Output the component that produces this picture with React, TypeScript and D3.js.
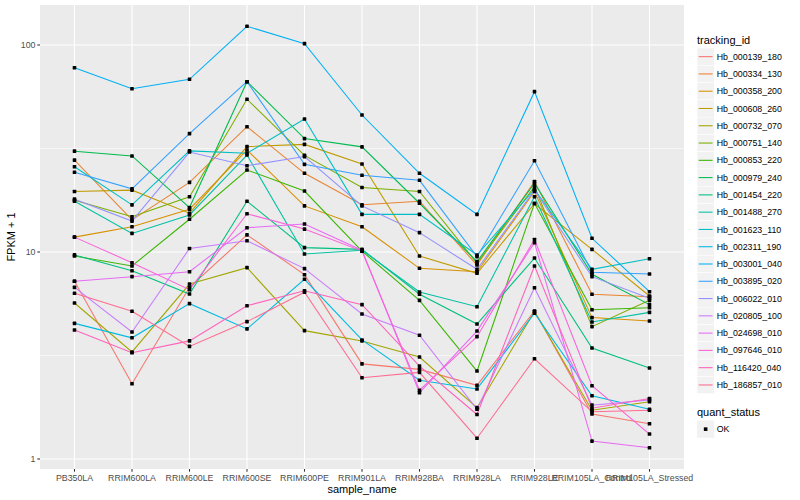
import React from "react";
import * as d3 from "d3";

const categories = [
  "PB350LA", "RRIM600LA", "RRIM600LE", "RRIM600SE", "RRIM600PE", "RRIM901LA",
  "RRIM928BA", "RRIM928LA", "RRIM928LE", "RRIM105LA_Control", "RRIM105LA_Stressed",
];

const trackingIds = [
  "Hb_000139_180", "Hb_000334_130", "Hb_000358_200", "Hb_000608_260", "Hb_000732_070",
  "Hb_000751_140", "Hb_000853_220", "Hb_000979_240", "Hb_001454_220", "Hb_001488_270",
  "Hb_001623_110", "Hb_002311_190", "Hb_003001_040", "Hb_003895_020", "Hb_006022_010",
  "Hb_020805_100", "Hb_024698_010", "Hb_097646_010", "Hb_116420_040", "Hb_186857_010",
];

const seriesColors = [
  "#F8766D", "#EA8331", "#D89000", "#C09B00", "#A3A500", "#7CAE00", "#39B600", "#00BB4E",
  "#00BF7D", "#00C1A3", "#00BFC4", "#00BAE0", "#00B0F6", "#35A2FF", "#9590FF", "#C77CFF",
  "#E76BF3", "#FA62DB", "#FF62BC", "#FF6C91",
];

// FPKM + 1 per sample, in the order of `categories`
const hb_000139_180 = [7.22, 2.31, 6.75, 12.1, 7.77, 2.88, 2.71, 2.27, 5.19, 1.65, 1.48];
const hb_000334_130 = [27.8, 14.3, 21.7, 40.3, 24.0, 16.9, 17.6, 8.65, 21.9, 6.25, 6.08];
const hb_000358_200 = [11.8, 13.25, 16.1, 31.1, 16.7, 13.25, 8.34, 8.03, 19.6, 4.82, 4.64];
const hb_000608_260 = [19.6, 19.9, 15.4, 32.3, 33.1, 26.6, 9.56, 7.89, 17.1, 10.3, 6.13];
const hb_000732_070 = [5.67, 3.29, 7.0, 8.4, 4.17, 3.72, 3.11, 1.77, 5.16, 1.72, 1.89];
const hb_000751_140 = [17.8, 14.8, 18.5, 54.7, 29.3, 20.5, 19.6, 8.82, 20.7, 4.36, 5.84];
const hb_000853_220 = [9.56, 8.56, 14.4, 24.9, 19.7, 10.1, 5.84, 2.66, 17.2, 5.26, 5.38];
const hb_000979_240 = [30.7, 29.1, 16.4, 66.5, 35.3, 32.2, 17.2, 8.98, 21.5, 7.8, 5.57];
const hb_001454_220 = [9.68, 8.12, 6.27, 17.6, 10.5, 10.3, 6.25, 4.49, 9.35, 3.44, 2.75];
const hb_001488_270 = [17.6, 12.3, 15.1, 29.4, 9.78, 10.2, 6.41, 5.44, 18.5, 4.59, 5.11];
const hb_001623_110 = [25.8, 16.9, 30.8, 30.0, 43.9, 15.2, 15.2, 9.67, 20.1, 8.25, 9.28];
const hb_002311_190 = [4.52, 3.85, 5.63, 4.25, 7.38, 3.76, 2.4, 2.18, 5.06, 2.02, 1.74];
const hb_003001_040 = [77.7, 61.5, 68.3, 123.1, 101.5, 45.9, 24.0, 15.2, 59.5, 11.65, 6.43];
const hb_003895_020 = [24.3, 20.2, 37.3, 66.5, 26.5, 23.5, 22.2, 9.5, 27.6, 7.98, 7.83];
const hb_006022_010 = [18.0, 14.1, 30.4, 26.1, 28.9, 16.7, 12.4, 8.25, 19.9, 7.6, 5.97];
const hb_020805_100 = [6.75, 4.11, 10.4, 11.34, 8.31, 5.02, 3.96, 1.74, 6.72, 1.82, 1.93];
const hb_024698_010 = [7.22, 7.6, 8.03, 13.1, 13.65, 10.2, 2.09, 4.15, 11.09, 1.22, 1.134];
const hb_097646_010 = [11.8, 8.88, 6.58, 15.3, 12.9, 10.1, 2.15, 3.9, 11.5, 2.26, 1.32];
const hb_116420_040 = [4.2, 3.26, 3.72, 5.5, 6.5, 5.57, 2.81, 1.64, 8.56, 1.76, 1.96];
const hb_186857_010 = [6.32, 5.17, 3.5, 4.61, 6.39, 2.47, 2.62, 1.26, 3.05, 1.69, 1.72];

const seriesValues = [
  hb_000139_180, hb_000334_130, hb_000358_200, hb_000608_260, hb_000732_070,
  hb_000751_140, hb_000853_220, hb_000979_240, hb_001454_220, hb_001488_270,
  hb_001623_110, hb_002311_190, hb_003001_040, hb_003895_020, hb_006022_010,
  hb_020805_100, hb_024698_010, hb_097646_010, hb_116420_040, hb_186857_010,
];

const yMajorTicks = [1, 10, 100];
const yTickLabels = ["1", "10", "100"];
const yMinorTicks = [Math.sqrt(10), Math.sqrt(1000)];
const quantStatus = ["OK"];

const W = 800;
const H = 500;
const P = { left: 40, right: 684, top: 5, bottom: 469 };
const FONT = "'Liberation Sans', Arial, Helvetica, sans-serif";
const PT = 3.6;

export default function App() {
  const step = (P.right - P.left) / (categories.length - 1 + 1.2);
  const x = d3
    .scalePoint<string>()
    .domain(categories)
    .range([P.left + 0.6 * step, P.right - 0.6 * step]);
  const y = d3
    .scaleLog()
    .domain([Math.pow(10, -10 / 207), Math.pow(10, 454 / 207)])
    .range([P.bottom, P.top]);

  const line = d3
    .line<number>()
    .x((_, i) => x(categories[i]) as number)
    .y((v) => y(v));

  const legendX = 697;
  const keyH = 17.28;
  const keyTop = 48;

  return (
    <svg
      width={W}
      height={H}
      style={{ position: "absolute", left: 0, top: 0, background: "#fff" }}
      fontFamily={FONT}
    >
      <rect x={P.left} y={P.top} width={P.right - P.left} height={P.bottom - P.top} fill="#EBEBEB" />
      {yMinorTicks.map((t, i) => (
        <line key={"mn" + i} x1={P.left} x2={P.right} y1={y(t)} y2={y(t)} stroke="#fff" strokeWidth={0.55} />
      ))}
      {yMajorTicks.map((t, i) => (
        <line key={"mj" + i} x1={P.left} x2={P.right} y1={y(t)} y2={y(t)} stroke="#fff" strokeWidth={1.1} />
      ))}
      {categories.map((c) => (
        <line key={"vx" + c} x1={x(c)} x2={x(c)} y1={P.top} y2={P.bottom} stroke="#fff" strokeWidth={1.1} />
      ))}

      {seriesValues.map((vals, i) => (
        <path key={"s" + i} d={line(vals) || ""} fill="none" stroke={seriesColors[i]} strokeWidth={1.07} />
      ))}
      {seriesValues.map((vals, i) =>
        vals.map((v, j) => (
          <rect
            key={"p" + i + "-" + j}
            x={(x(categories[j]) as number) - PT / 2}
            y={y(v) - PT / 2}
            width={PT}
            height={PT}
            rx={0.6}
            fill="#000"
          />
        ))
      )}

      {/* y axis */}
      {yMajorTicks.map((t, i) => (
        <g key={"yt" + i}>
          <line x1={P.left - 2.7} x2={P.left} y1={y(t)} y2={y(t)} stroke="#333" strokeWidth={1.07} />
          <text x={P.left - 4.5} y={y(t)} dy="0.35em" textAnchor="end" fontSize={8.8} fill="#4D4D4D">
            {yTickLabels[i]}
          </text>
        </g>
      ))}
      {/* x axis */}
      {categories.map((c) => (
        <g key={"xt" + c}>
          <line x1={x(c)} x2={x(c)} y1={P.bottom} y2={P.bottom + 2.7} stroke="#333" strokeWidth={1.07} />
          <text x={x(c)} y={P.bottom + 11.5} textAnchor="middle" fontSize={8.8} fill="#4D4D4D">
            {c}
          </text>
        </g>
      ))}
      <text x={(P.left + P.right) / 2} y={493} textAnchor="middle" fontSize={11} fill="#000">
        sample_name
      </text>
      <text
        transform={`translate(15,${(P.top + P.bottom) / 2}) rotate(-90)`}
        textAnchor="middle"
        fontSize={11}
        fill="#000"
      >
        FPKM + 1
      </text>

      {/* legend: tracking_id */}
      <text x={legendX} y={44} fontSize={11} fill="#000">
        tracking_id
      </text>
      {trackingIds.map((id, i) => {
        const top = keyTop + i * keyH;
        return (
          <g key={"lg" + id}>
            <rect x={legendX} y={top} width={keyH} height={keyH} fill="#F2F2F2" stroke="#fff" strokeWidth={0.5} />
            <line
              x1={legendX + 1.7}
              x2={legendX + keyH - 1.7}
              y1={top + keyH / 2}
              y2={top + keyH / 2}
              stroke={seriesColors[i]}
              strokeWidth={1.07}
            />
            <text x={legendX + keyH + 2.5} y={top + keyH / 2} dy="0.35em" fontSize={8.8} fill="#000">
              {id}
            </text>
          </g>
        );
      })}

      {/* legend: quant_status */}
      <text x={legendX} y={416} fontSize={11} fill="#000">
        quant_status
      </text>
      {quantStatus.map((s, i) => {
        const top = 420.5 + i * keyH;
        return (
          <g key={"qs" + s}>
            <rect x={legendX} y={top} width={keyH} height={keyH} fill="#F2F2F2" />
            <rect x={legendX + keyH / 2 - PT / 2} y={top + keyH / 2 - PT / 2} width={PT} height={PT} fill="#000" />
            <text x={legendX + keyH + 2.5} y={top + keyH / 2} dy="0.35em" fontSize={8.8} fill="#000">
              {s}
            </text>
          </g>
        );
      })}
    </svg>
  );
}
